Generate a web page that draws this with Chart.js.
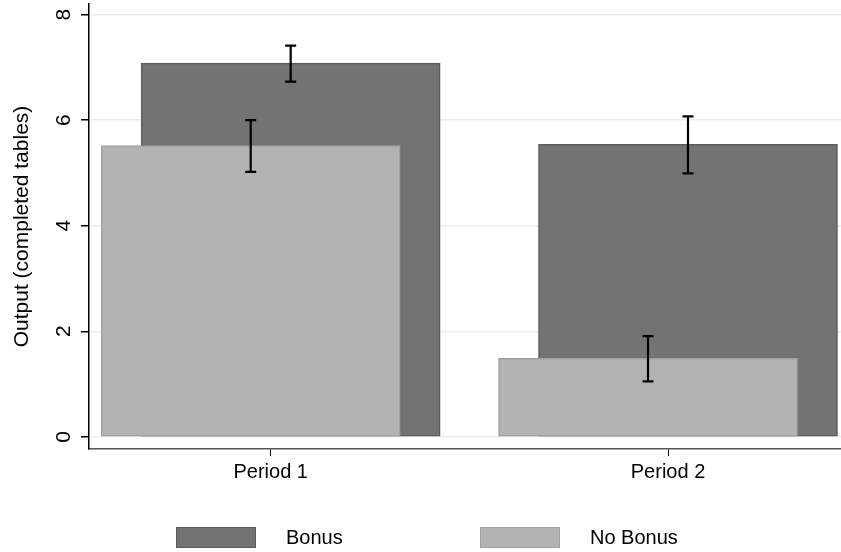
<!DOCTYPE html>
<html>
<head>
<meta charset="utf-8">
<script src="https://cdn.jsdelivr.net/npm/chart.js@4"></script>
<style>
  html, body { margin: 0; padding: 0; background: #fff; }
  #wrap { width: 841px; height: 552px; }
</style>
</head>
<body>
<div id="wrap"><canvas id="outputChart"></canvas></div>
<script>
// data
const periods = ['Period 1', 'Period 2'];
const periodPos = [1, 2];
const yTicks = [0, 2, 4, 6, 8];

const bonusVals = [7.08, 5.54];
const bonusLo = [6.73, 4.99];
const bonusHi = [7.41, 6.07];

const noBonusVals = [5.52, 1.49];
const noBonusLo = [5.02, 1.05];
const noBonusHi = [6.00, 1.91];

// x range of the plot and how far the two bars sit off each period
const xMin = 0.5427, xMax = 2.4354;
const shift = 0.0503;

const FONT = "'Liberation Sans', Arial, Helvetica, sans-serif";
Chart.defaults.font.family = FONT;
Chart.defaults.color = '#000';

// error bars
const errorBars = {
  id: 'errorBars',
  afterDatasetsDraw(chart) {
    const ctx = chart.ctx;
    const y = chart.scales.y;
    ctx.save();
    ctx.strokeStyle = '#000';
    ctx.lineWidth = 2.2;
    chart.data.datasets.forEach((ds, i) => {
      const meta = chart.getDatasetMeta(i);
      meta.data.forEach((bar, j) => {
        const top = y.getPixelForValue(ds.hi[j]);
        const bot = y.getPixelForValue(ds.lo[j]);
        ctx.beginPath();
        ctx.moveTo(bar.x, top); ctx.lineTo(bar.x, bot);
        ctx.moveTo(bar.x - 5.5, top); ctx.lineTo(bar.x + 5.5, top);
        ctx.moveTo(bar.x - 5.5, bot); ctx.lineTo(bar.x + 5.5, bot);
        ctx.stroke();
      });
    });
    ctx.restore();
  }
};

// stata style legend below the plot
const boxLegend = {
  id: 'boxLegend',
  afterDraw(chart) {
    const ctx = chart.ctx;
    const starts = [176, 480];
    ctx.save();
    ctx.font = '20px ' + FONT;
    ctx.textBaseline = 'middle';
    chart.data.datasets.forEach((ds, i) => {
      const x = starts[i];
      ctx.fillStyle = ds.backgroundColor;
      ctx.fillRect(x, 527, 80, 21);
      ctx.strokeStyle = ds.borderColor;
      ctx.lineWidth = 1;
      ctx.strokeRect(x + 0.5, 527.5, 79, 20);
      ctx.fillStyle = '#000';
      ctx.fillText(ds.label, x + 110, 538.5);
    });
    ctx.restore();
  }
};

const ctx = document.getElementById('outputChart');

new Chart(ctx, {
  type: 'bar',
  data: {
    datasets: [
      {
        label: 'Bonus',
        data: bonusVals.map((v, i) => ({ x: periodPos[i], y: v })),
        lo: bonusLo,
        hi: bonusHi,
        backgroundColor: '#737373',
        borderColor: '#5c5c5c',
        borderWidth: 1.5,
        borderSkipped: false,
        barThickness: 299,
        grouped: false,
        xAxisID: 'xb',
        order: 1
      },
      {
        label: 'No Bonus',
        data: noBonusVals.map((v, i) => ({ x: periodPos[i], y: v })),
        lo: noBonusLo,
        hi: noBonusHi,
        backgroundColor: '#b3b3b3',
        borderColor: '#a0a0a0',
        borderWidth: 1.5,
        borderSkipped: false,
        barThickness: 299,
        grouped: false,
        xAxisID: 'xn',
        order: 0
      }
    ]
  },
  options: {
    responsive: true,
    maintainAspectRatio: false,
    animation: false,
    layout: { padding: { top: 4, left: 0, right: 0, bottom: 0 } },
    plugins: {
      legend: { display: false },
      tooltip: { enabled: false }
    },
    scales: {
      x: {
        type: 'linear',
        position: 'bottom',
        offset: false,
        min: xMin,
        max: xMax,
        afterBuildTicks: (scale) => {
          scale.ticks = periodPos.map(v => ({ value: v }));
        },
        afterFit: (scale) => {
          scale.height = 103;
          scale.paddingLeft = 0;
          scale.paddingRight = 0;
        },
        ticks: {
          font: { size: 20 },
          padding: 4,
          maxRotation: 0,
          callback: (v) => periods[periodPos.indexOf(v)]
        },
        grid: { offset: false, drawOnChartArea: false, tickLength: 7, tickColor: '#000', lineWidth: 1 },
        border: { color: '#555', width: 1.5 }
      },
      xb: { type: 'linear', display: false, offset: false, grid: { offset: false }, min: xMin - shift, max: xMax - shift },
      xn: { type: 'linear', display: false, offset: false, grid: { offset: false }, min: xMin + shift, max: xMax + shift },
      y: {
        min: -0.23,
        max: 8.2,
        afterBuildTicks: (scale) => {
          scale.ticks = yTicks.map(v => ({ value: v }));
        },
        afterFit: (scale) => {
          scale.width = 89;
          scale.paddingTop = 0;
          scale.paddingBottom = 0;
        },
        ticks: {
          font: { size: 21 },
          minRotation: 90,
          maxRotation: 90,
          crossAlign: 'center',
          padding: 11
        },
        grid: { color: '#ebebeb', lineWidth: 1.5, tickLength: 8, tickColor: '#000' },
        border: { color: '#000', width: 1.5 },
        title: {
          display: true,
          text: 'Output (completed tables)',
          font: { size: 21 },
          padding: { top: 10, bottom: 0 }
        }
      }
    }
  },
  plugins: [errorBars, boxLegend]
});
</script>
</body>
</html>
